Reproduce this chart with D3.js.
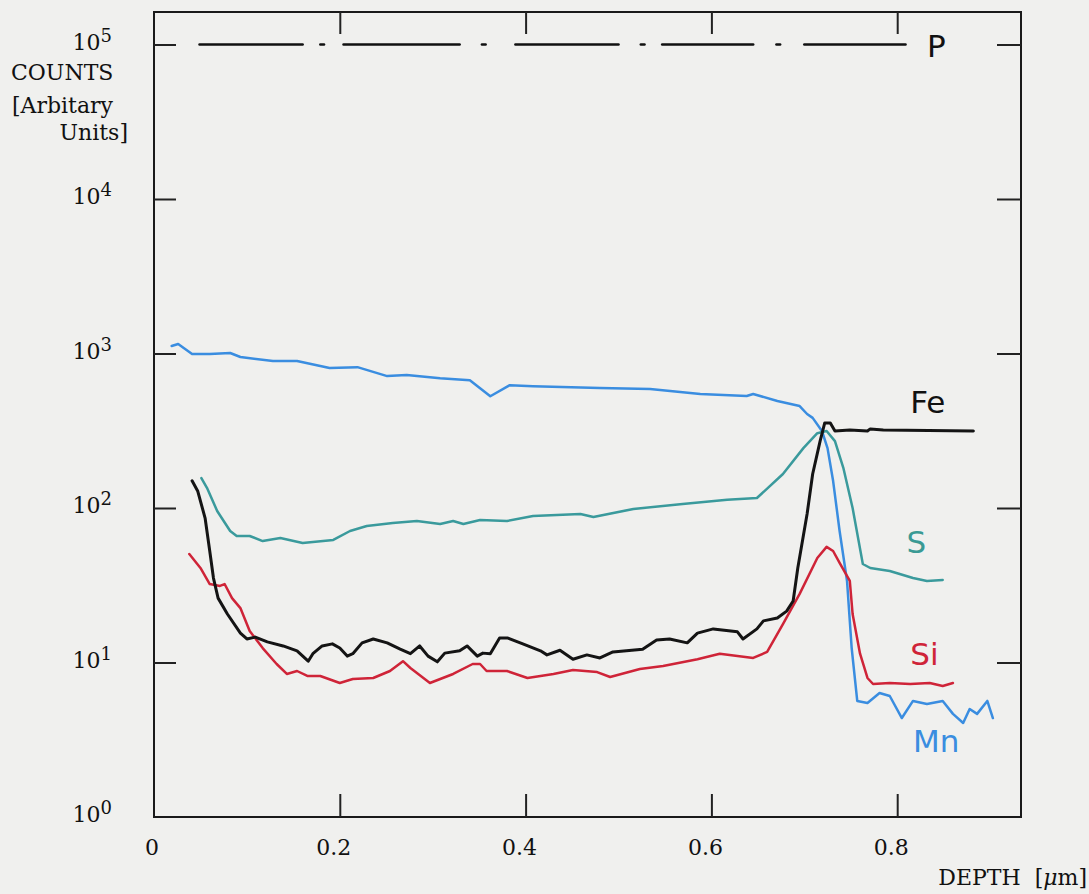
<!DOCTYPE html>
<html>
<head>
<meta charset="utf-8">
<script src="https://cdn.jsdelivr.net/npm/d3@7"></script>
<style>
  body { margin: 0; background: #f0f0ee; }
  svg { display: block; }
  .lbl { font-family: "DejaVu Serif", "Liberation Serif", serif; font-size: 22px; fill: #111; white-space: pre; }
  .hand { font-family: "DejaVu Sans", sans-serif; font-size: 31px; }
  .axis path { display: none; }
  .axis line { stroke: #222; stroke-width: 2; }
</style>
</head>
<body>
<svg width="1089" height="894"></svg>
<script>
// depth in um, counts in arbitrary units
const mnDepth = [0.019,0.026,0.041,0.060,0.082,0.093,0.128,0.154,0.189,0.219,0.251,0.272,0.308,0.340,0.362,0.383,0.408,0.480,0.534,0.588,0.638,0.645,0.671,0.695,0.703,0.709,0.719,0.725,0.731,0.738,0.746,0.751,0.757,0.768,0.781,0.792,0.805,0.817,0.832,0.849,0.860,0.871,0.878,0.886,0.897,0.903];
const mnCounts = [1119,1151,993,993,1007,949,893,893,805,816,714,725,692,672,529,624,614,597,589,547,531,547,493,457,406,383,315,244,150,71,33.7,12.4,5.64,5.47,6.35,6.07,4.37,5.64,5.39,5.64,4.65,4.06,5.0,4.65,5.64,4.37];

const sDepth = [0.051,0.057,0.068,0.082,0.089,0.103,0.117,0.136,0.160,0.193,0.211,0.229,0.257,0.283,0.308,0.322,0.333,0.351,0.380,0.408,0.459,0.473,0.516,0.569,0.617,0.649,0.677,0.699,0.714,0.724,0.733,0.742,0.752,0.763,0.771,0.792,0.817,0.832,0.849];
const sCounts = [156,135,95.7,71,65.9,65.9,61.1,63.9,59.3,62.1,71,76.4,80,82.4,78.8,82.4,78.8,83.6,82.4,88.8,91.5,87.5,98.6,106,113,116,166,244,305,315,271,182,100,43.4,40.9,39.1,35.2,33.7,34.2];

const siDepth = [0.038,0.050,0.060,0.071,0.076,0.084,0.093,0.103,0.117,0.132,0.143,0.154,0.165,0.179,0.200,0.214,0.236,0.254,0.268,0.276,0.297,0.322,0.343,0.351,0.358,0.380,0.402,0.430,0.451,0.477,0.491,0.523,0.548,0.585,0.609,0.645,0.660,0.677,0.695,0.714,0.724,0.731,0.738,0.749,0.752,0.760,0.768,0.774,0.792,0.814,0.835,0.849,0.860];
const siCounts = [50.4,40.9,32.2,31.3,32.2,26.1,22.5,16.0,12.4,9.78,8.43,8.81,8.18,8.18,7.37,7.82,7.94,8.81,10.2,9.21,7.37,8.43,9.78,9.78,8.81,8.81,7.94,8.43,8.94,8.67,8.06,9.07,9.49,10.5,11.4,10.7,11.7,17.7,27.8,47.5,56.0,52.7,44.1,33.7,20.6,11.4,7.94,7.26,7.37,7.26,7.37,7.05,7.37];

const feDepth = [0.041,0.047,0.055,0.060,0.064,0.069,0.079,0.093,0.100,0.109,0.122,0.139,0.154,0.166,0.171,0.181,0.192,0.200,0.208,0.214,0.224,0.236,0.251,0.265,0.276,0.286,0.295,0.305,0.313,0.329,0.337,0.348,0.354,0.362,0.372,0.381,0.397,0.416,0.423,0.437,0.451,0.466,0.480,0.494,0.526,0.541,0.555,0.574,0.585,0.602,0.628,0.634,0.649,0.656,0.671,0.681,0.688,0.693,0.703,0.709,0.717,0.722,0.728,0.733,0.749,0.768,0.771,0.785,0.882];
const feCounts = [150,129,86.1,52.7,35.2,26.1,20.6,15.5,14.2,14.6,13.6,12.8,11.9,10.2,11.4,12.8,13.2,12.4,11.0,11.4,13.4,14.2,13.4,12.2,11.4,12.8,11.0,10.1,11.5,11.9,12.8,11.0,11.5,11.4,14.4,14.4,13.2,11.9,11.2,12.0,10.5,11.2,10.7,11.7,12.2,14.0,14.2,13.4,15.5,16.5,15.8,14.2,16.5,18.6,19.4,21.5,25.0,40.9,91.4,166,271,355,355,315,320,315,325,320,315];

// P: hand drawn dash-dot line at 1e5, as [start, end] depth pieces
const pLevel = 1e5;
const pPieces = [[0.049,0.160],[0.179,0.183],[0.204,0.329],[0.353,0.357],[0.389,0.500],[0.524,0.528],[0.547,0.645],[0.670,0.674],[0.700,0.809]];

const xTicks = [0.2, 0.4, 0.6, 0.8];
const xTickLabels = ["0", "0.2", "0.4", "0.6", "0.8"];
const yExps = [0, 1, 2, 3, 4, 5];

const labels = [
  {name: "Fe", x: 0.814, y: 412, color: "#111"},
  {name: "S", x: 0.810, y: 51, color: "#3a9a94"},
  {name: "Si", x: 0.814, y: 9.6, color: "#cf2438"},
  {name: "Mn", x: 0.817, y: 2.63, color: "#3a8de0"},
  {name: "P", x: 0.832, y: 83000, color: "#111"}
];

const mLeft = 154, mRight = 1021, mTop = 12, mBottom = 817;

const x = d3.scaleLinear().domain([0, (mRight - mLeft) / 929]).range([mLeft, mRight]);
const y = d3.scaleLog().domain([1, Math.pow(10, (mBottom - mTop) / 154.5)]).range([mBottom, mTop]);

const svg = d3.select("svg");

// frame
svg.append("rect")
  .attr("x", mLeft).attr("y", mTop)
  .attr("width", mRight - mLeft).attr("height", mBottom - mTop)
  .attr("fill", "none").attr("stroke", "#1a1a1a").attr("stroke-width", 2);

// ticks, all pointing inwards
const yTickVals = yExps.slice(1).map(e => Math.pow(10, e));
svg.append("g").attr("class", "axis").attr("transform", `translate(${mLeft},0)`)
  .call(d3.axisLeft(y).tickValues(yTickVals).tickSize(-22).tickFormat(""));
svg.append("g").attr("class", "axis").attr("transform", `translate(${mRight},0)`)
  .call(d3.axisRight(y).tickValues(yTickVals).tickSize(-24).tickFormat(""));
svg.append("g").attr("class", "axis").attr("transform", `translate(0,${mBottom})`)
  .call(d3.axisBottom(x).tickValues(xTicks).tickSize(-23).tickFormat(""));
svg.append("g").attr("class", "axis").attr("transform", `translate(0,${mTop})`)
  .call(d3.axisTop(x).tickValues(xTicks).tickSize(-22).tickFormat(""));

// y labels 10^n
yExps.forEach(e => {
  const t = svg.append("text").attr("class", "lbl")
    .attr("x", 112).attr("y", y(Math.pow(10, e)) + 5)
    .attr("text-anchor", "end");
  t.append("tspan").text("10");
  t.append("tspan").attr("dy", -8).attr("font-size", 18).text(e);
});

// x labels
[0].concat(xTicks).forEach((v, i) => {
  svg.append("text").attr("class", "lbl")
    .attr("x", x(v) - (i === 0 ? 2 : 6)).attr("y", 855)
    .attr("text-anchor", "middle")
    .text(xTickLabels[i]);
});

// axis titles
svg.append("text").attr("class", "lbl").attr("x", 11).attr("y", 80).text("COUNTS");
svg.append("text").attr("class", "lbl").attr("x", 12).attr("y", 113).text("[Arbitary");
svg.append("text").attr("class", "lbl").attr("x", 128).attr("y", 140).attr("text-anchor", "end").text("Units]");
const dt = svg.append("text").attr("class", "lbl").attr("x", 1087).attr("y", 885).attr("text-anchor", "end");
dt.append("tspan").text("DEPTH  [");
dt.append("tspan").attr("font-style", "italic").text("μ");
dt.append("tspan").text("m]");

// series
const line = d3.line().x(d => x(d[0])).y(d => y(d[1]));
const series = [
  {d: mnDepth, c: mnCounts, color: "#3a8de0", w: 2.5},
  {d: sDepth, c: sCounts, color: "#3a9a9c", w: 2.5},
  {d: siDepth, c: siCounts, color: "#cf2438", w: 2.5},
  {d: feDepth, c: feCounts, color: "#141414", w: 3}
];
series.forEach(s => {
  svg.append("path")
    .datum(d3.zip(s.d, s.c))
    .attr("d", line)
    .attr("fill", "none")
    .attr("stroke", s.color)
    .attr("stroke-width", s.w)
    .attr("stroke-linejoin", "round")
    .attr("stroke-linecap", "round");
});

// P dash-dot
svg.selectAll(".pseg").data(pPieces).enter().append("line")
  .attr("class", "pseg")
  .attr("x1", d => x(d[0])).attr("x2", d => x(d[1]))
  .attr("y1", y(pLevel)).attr("y2", y(pLevel))
  .attr("stroke", "#111").attr("stroke-width", 2.5)
  .attr("stroke-linecap", "round");

// hand written labels
svg.selectAll(".hand").data(labels).enter().append("text")
  .attr("class", "hand")
  .attr("x", d => x(d.x)).attr("y", d => y(d.y))
  .attr("fill", d => d.color)
  .text(d => d.name);
</script>
</body>
</html>
